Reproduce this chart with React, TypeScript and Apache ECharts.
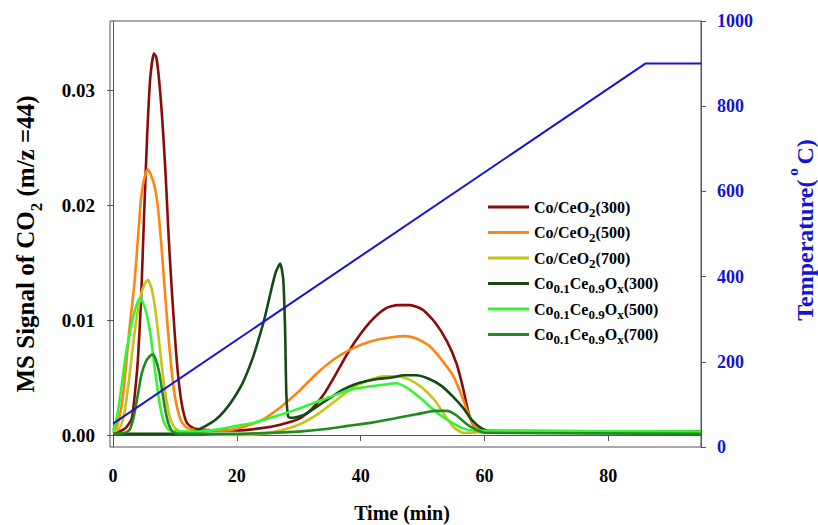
import React, { useEffect, useRef } from "react";
import * as echarts from "echarts";

const FONT = "'Liberation Serif', 'Times New Roman', Times, serif";

// Time (min) ticks and MS-signal ticks
const X_TICKS = [0, 20, 40, 60, 80];
const Y_TICKS = [0, 0.01, 0.02, 0.03];

const SERIES_NAMES = [
  "Co/CeO2(300)",
  "Co/CeO2(500)",
  "Co/CeO2(700)",
  "Co0.1Ce0.9Ox(300)",
  "Co0.1Ce0.9Ox(500)",
  "Co0.1Ce0.9Ox(700)",
];
const SERIES_COLORS = ["#8B0A0A", "#FF8410", "#C8C21A", "#144A14", "#33F533", "#208A20"];

// [time (min), MS signal]
const CO_CEO2_300: number[][] = [
  [0, 0.0002], [1, 0.0003], [2, 0.0006], [3, 0.0014], [3.5, 0.0035], [4, 0.0065], [4.5, 0.0115],
  [5, 0.019], [5.5, 0.026], [6, 0.031], [6.6, 0.0332], [7, 0.0328], [7.5, 0.0305], [8, 0.027],
  [8.5, 0.0225], [9, 0.017], [9.5, 0.0125], [10, 0.0085], [10.5, 0.0052], [11, 0.003], [11.5, 0.0017],
  [12, 0.001], [13, 0.0006], [14, 0.0005], [16, 0.0004], [20, 0.0004], [24, 0.0006], [27, 0.0009],
  [30, 0.0014], [32, 0.0022], [34, 0.0035], [36, 0.0053], [38, 0.0072], [40, 0.0088], [42, 0.0101],
  [44, 0.011], [46, 0.0113], [48, 0.0113], [50, 0.0109], [52, 0.0098], [54, 0.0081], [55.5, 0.0062],
  [56.5, 0.0042], [57.5, 0.0018], [58.5, 0.0006], [60, 0.0004], [70, 0.0003], [80, 0.0003], [95, 0.0002],
];
const CO_CEO2_500: number[][] = [
  [0, 0.0002], [0.5, 0.0006], [1, 0.0015], [1.5, 0.003], [2, 0.0055], [2.5, 0.0085], [3, 0.011],
  [3.5, 0.0135], [4, 0.017], [4.5, 0.0205], [5, 0.0222], [5.6, 0.0231], [6.2, 0.0225], [6.8, 0.0214],
  [7.3, 0.0195], [7.8, 0.0165], [8.3, 0.013], [8.8, 0.0095], [9.3, 0.0065], [9.8, 0.004], [10.3, 0.0025],
  [11, 0.0012], [12, 0.0006], [14, 0.0004], [18, 0.0004], [21, 0.0007], [24, 0.0013], [27, 0.0024],
  [30, 0.0038], [33, 0.0054], [36, 0.0067], [39, 0.0076], [42, 0.0082], [45, 0.0085], [47, 0.0086],
  [49, 0.0084], [51, 0.0078], [53, 0.0066], [55, 0.0051], [56.5, 0.0032], [57.5, 0.0017], [58.5, 0.0007],
  [60, 0.0004], [95, 0.0003],
];
const CO_CEO2_700: number[][] = [
  [0, 0.0002], [1, 0.0006], [1.5, 0.0012], [2, 0.0025], [2.5, 0.0045], [3, 0.0068], [3.5, 0.009],
  [4, 0.0108], [4.5, 0.0122], [5, 0.013], [5.6, 0.0135], [6.2, 0.0128], [6.8, 0.011], [7.3, 0.0088],
  [7.8, 0.0063], [8.3, 0.0042], [8.8, 0.0025], [9.3, 0.0013], [10, 0.0006], [11, 0.0003], [15, 0.0001],
  [20, 0.0], [24, 0.0001], [27, 0.0004], [30, 0.0009], [33, 0.0018], [36, 0.003], [39, 0.0042],
  [42, 0.0049], [44, 0.0051], [46, 0.0051], [48, 0.0048], [50, 0.0041], [52, 0.003], [53.5, 0.0018],
  [55, 0.0007], [56.5, 0.0002], [58, 0.0002], [60, 0.0003], [95, 0.0003],
];
const CO01_300: number[][] = [
  [0, 0.0001], [5, 0.0001], [10, 0.0001], [12, 0.0002], [13.5, 0.0004], [15, 0.0008], [16.5, 0.0013],
  [18, 0.0021], [19.5, 0.0032], [21, 0.0046], [22.5, 0.0066], [23.5, 0.0083], [24.5, 0.0102],
  [25.5, 0.0125], [26.3, 0.0142], [27, 0.0149], [27.5, 0.0135], [27.8, 0.009], [28, 0.0035],
  [28.3, 0.0016], [29, 0.0015], [31, 0.0018], [33, 0.0025], [35, 0.0032], [37, 0.0039], [39, 0.0044],
  [41, 0.0047], [43, 0.0049], [45, 0.005], [47, 0.0052], [49, 0.0052], [51, 0.0049], [53, 0.0043],
  [55, 0.0033], [56.5, 0.0024], [58, 0.0013], [59.5, 0.0006], [61, 0.0003], [95, 0.0003],
];
const CO01_500: number[][] = [
  [0, 0.0004], [0.5, 0.0012], [1, 0.0028], [1.5, 0.0048], [2, 0.0068], [2.5, 0.0083], [3, 0.0097],
  [3.5, 0.0108], [4, 0.0116], [4.4, 0.0119], [5, 0.0113], [5.5, 0.0103], [6, 0.0089], [6.5, 0.0068],
  [7, 0.0047], [7.5, 0.0028], [8, 0.0015], [8.5, 0.0008], [9.2, 0.0004], [11, 0.0003], [14, 0.0003],
  [17, 0.0005], [20, 0.0008], [23, 0.0011], [26, 0.0016], [29, 0.0021], [32, 0.0027], [35, 0.0033],
  [38, 0.0039], [41, 0.0042], [44, 0.0044], [45.8, 0.0045], [47.5, 0.0041], [49, 0.0035], [50.5, 0.0028],
  [52, 0.0021], [53.5, 0.0015], [55, 0.001], [56.5, 0.0006], [58, 0.0004], [95, 0.0003],
];
const CO01_700: number[][] = [
  [0, 0.0001], [2, 0.0002], [2.7, 0.0005], [3.3, 0.0015], [4, 0.0035], [4.6, 0.0053], [5.3, 0.0064],
  [6, 0.0069], [6.5, 0.007], [7, 0.0064], [7.5, 0.0053], [8, 0.0036], [8.5, 0.002], [9, 0.0009],
  [9.6, 0.0003], [10.5, 0.0001], [20, 0.0001], [26, 0.0002], [30, 0.0003], [34, 0.0005], [38, 0.0008],
  [42, 0.0011], [46, 0.0015], [49, 0.0018], [52, 0.0021], [54, 0.0021], [55.5, 0.0017], [57, 0.001],
  [58.5, 0.0005], [60, 0.0002], [95, 0.0001],
];
const SERIES_DATA = [CO_CEO2_300, CO_CEO2_500, CO_CEO2_700, CO01_300, CO01_500, CO01_700];

// Temperature programme [time (min), °C]
const TEMPERATURE: number[][] = [[0, 55], [86, 900], [95, 900]];

const LEGEND_RICH_TEXT: Record<string, string> = {
  "Co/CeO2(300)": "{n|Co/CeO}{s|2}{n|(300)}",
  "Co/CeO2(500)": "{n|Co/CeO}{s|2}{n|(500)}",
  "Co/CeO2(700)": "{n|Co/CeO}{s|2}{n|(700)}",
  "Co0.1Ce0.9Ox(300)": "{n|Co}{s|0.1}{n|Ce}{s|0.9}{n|O}{s|x}{n|(300)}",
  "Co0.1Ce0.9Ox(500)": "{n|Co}{s|0.1}{n|Ce}{s|0.9}{n|O}{s|x}{n|(500)}",
  "Co0.1Ce0.9Ox(700)": "{n|Co}{s|0.1}{n|Ce}{s|0.9}{n|O}{s|x}{n|(700)}",
};

const BLUE = "#1414D2";
const AXIS_GREY = "#555555";

export default function App() {
  const ref = useRef<HTMLDivElement>(null);
  useEffect(() => {
    if (!ref.current) return;
    const chart = echarts.init(ref.current, undefined, { renderer: "svg" });
    const series: any[] = SERIES_NAMES.map((name, i) => ({
      name,
      type: "line",
      data: SERIES_DATA[i],
      showSymbol: false,
      symbol: "none",
      smooth: 0.2,
      color: SERIES_COLORS[i],
      lineStyle: { width: 2.6, color: SERIES_COLORS[i] },
      z: 2,
    }));
    series.push({
      name: "Temperature",
      type: "line",
      yAxisIndex: 1,
      data: TEMPERATURE,
      showSymbol: false,
      symbol: "none",
      color: BLUE,
      lineStyle: { width: 2, color: BLUE },
      z: 3,
    });
    chart.setOption({
      animation: false,
      backgroundColor: "#ffffff",
      grid: {
        left: 110,
        right: 117,
        top: 21,
        bottom: 78,
        show: true,
        borderColor: AXIS_GREY,
        borderWidth: 1,
        backgroundColor: "transparent",
      },
      legend: {
        data: SERIES_NAMES,
        orient: "vertical",
        left: 488,
        top: 199,
        padding: 0,
        itemWidth: 41,
        itemHeight: 3,
        itemGap: 6,
        icon: "rect",
        formatter: (name: string) => LEGEND_RICH_TEXT[name] || name,
        textStyle: {
          fontFamily: FONT,
          fontWeight: "bold",
          fontSize: 16,
          color: "#000",
          rich: {
            n: { fontFamily: FONT, fontWeight: "bold", fontSize: 16, color: "#000" },
            s: { fontFamily: FONT, fontWeight: "bold", fontSize: 13, color: "#000", padding: [10, 0, 0, 0] },
          },
        },
      },
      xAxis: {
        type: "value",
        min: -0.5,
        max: 95,
        axisLine: { show: true, lineStyle: { color: AXIS_GREY, width: 1 } },
        axisTick: { show: true, length: 6, customValues: X_TICKS, lineStyle: { color: AXIS_GREY } },
        axisLabel: {
          customValues: X_TICKS,
          fontFamily: FONT,
          fontWeight: "bold",
          fontSize: 18,
          color: "#000",
          margin: 20,
        },
        splitLine: { show: false },
      },
      yAxis: [
        {
          type: "value",
          position: "left",
          min: -0.00104,
          max: 0.036,
          axisLine: { show: true, lineStyle: { color: AXIS_GREY, width: 1 } },
          axisTick: { show: true, length: 6, customValues: Y_TICKS, lineStyle: { color: AXIS_GREY } },
          axisLabel: {
            customValues: Y_TICKS,
            formatter: (v: number) => v.toFixed(2),
            fontFamily: FONT,
            fontWeight: "bold",
            fontSize: 19,
            color: "#000",
            margin: 15,
          },
          splitLine: { show: false },
        },
        {
          type: "value",
          position: "right",
          min: 0,
          max: 1000,
          interval: 200,
          axisLine: { show: true, lineStyle: { color: AXIS_GREY, width: 1 } },
          axisTick: { show: true, length: 5, lineStyle: { color: AXIS_GREY } },
          axisLabel: {
            formatter: (v: number) => String(v),
            fontFamily: FONT,
            fontWeight: "bold",
            fontSize: 18,
            color: BLUE,
            margin: 16,
          },
          splitLine: { show: false },
        },
      ],
      graphic: [
        {
          type: "text",
          x: 25,
          y: 244,
          rotation: Math.PI / 2,
          style: {
            text: "{a|MS Signal of CO}{s|2}{a| (m/z =44)}",
            align: "center",
            verticalAlign: "middle",
            fill: "#000",
            rich: {
              a: { fontFamily: FONT, fontWeight: "bold", fontSize: 25, fill: "#000" },
              s: { fontFamily: FONT, fontWeight: "bold", fontSize: 17, fill: "#000", padding: [22, 0, 0, 0] },
            },
          },
        },
        {
          type: "text",
          x: 402,
          y: 513,
          style: {
            text: "Time (min)",
            align: "center",
            verticalAlign: "middle",
            fill: "#000",
            font: `bold 20px ${FONT}`,
          },
        },
        {
          type: "text",
          x: 805,
          y: 230,
          rotation: Math.PI / 2,
          style: {
            text: "{a|Temperature(}{u| o }{a|C)}",
            align: "center",
            verticalAlign: "middle",
            fill: BLUE,
            rich: {
              a: { fontFamily: FONT, fontWeight: "bold", fontSize: 24, fill: BLUE },
              u: { fontFamily: FONT, fontWeight: "bold", fontSize: 15, fill: BLUE, padding: [0, 0, 24, 0] },
            },
          },
        },
      ],
      series,
    });
    return () => chart.dispose();
  }, []);
  return (
    <div
      ref={ref}
      style={{ position: "fixed", left: 0, top: 0, width: 818, height: 525 }}
    />
  );
}
